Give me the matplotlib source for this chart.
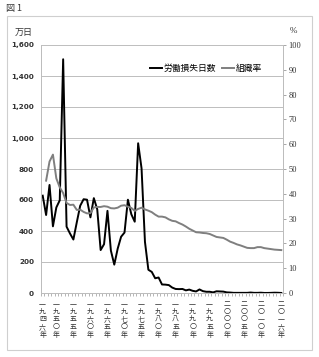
import numpy as np
import matplotlib
matplotlib.use('Agg')
import matplotlib.pyplot as plt
from matplotlib.lines import Line2D
from matplotlib.patches import Rectangle

plt.rcParams['font.family'] = ['Noto Sans CJK JP', 'DejaVu Sans']

# categories: one per year, 1946 - 2016
years = list(range(1946, 2017))

# 労働損失日数 (万日)
lost_days = [628, 503, 697, 430, 552, 598, 1508, 428, 384, 345, 456, 563,
             605, 602, 488, 612, 540, 277, 315, 530, 274, 183, 286, 363,
             390, 602, 508, 460, 966, 804, 330, 150, 136, 95, 100, 55,
             54, 51, 35, 26, 25, 26, 17, 22, 14, 10, 23, 12, 8, 8, 4,
             11, 10, 9, 4, 3, 1, 1, 1, 1, 1, 3, 1, 1, 2, 0.4, 0.4, 1, 2,
             1.5, 0.3]

# 組織率 (%) - starts in 1947
union_years = list(range(1947, 2017))
union_rate = [45.3, 53.0, 55.8, 46.2, 42.6, 40.3, 36.3, 35.5, 35.6, 33.5,
              33.6, 32.7, 32.1, 32.2, 34.5, 34.7, 34.7, 35.0, 34.8, 34.2,
              34.1, 34.4, 35.2, 35.4, 34.8, 34.3, 33.1, 33.9, 34.4, 33.7,
              33.2, 32.6, 31.6, 30.8, 30.8, 30.5, 29.7, 29.1, 28.9, 28.2,
              27.6, 26.8, 25.9, 25.2, 24.5, 24.4, 24.2, 24.1, 23.8, 23.2,
              22.6, 22.4, 22.2, 21.5, 20.7, 20.2, 19.6, 19.2, 18.7, 18.2,
              18.1, 18.1, 18.5, 18.5, 18.1, 17.9, 17.7, 17.5, 17.4, 17.3]

label_years = [1946, 1950, 1955, 1960, 1965, 1970, 1975, 1980,
               1985, 1990, 1995, 2000, 2005, 2010, 2016]
label_texts = ['一九四六年', '一九五〇年', '一九五五年', '一九六〇年', '一九六五年',
               '一九七〇年', '一九七五年', '一九八〇年', '一九八五年', '一九九〇年',
               '一九九五年', '二〇〇〇年', '二〇〇五年', '二〇一〇年', '二〇一六年']

W, H = 319, 357
fig = plt.figure(figsize=(W / 100, H / 100), dpi=100)

# outer frame
fig.patches.append(Rectangle((7 / W, 1 - 350 / H), 305 / W, 334 / H,
                             transform=fig.transFigure, fill=False,
                             edgecolor='#cfcfcf', linewidth=0.8))
fig.text(6 / W, 1 - 8 / H, '図 1', fontsize=6.5, va='center', ha='left',
         color='#333333')

ax = fig.add_axes([41 / W, 1 - 293 / H, 242 / W, 248 / H])
ax2 = ax.twinx()

idx = np.arange(len(years))
uidx = np.array([years.index(y) for y in union_years])

ax.plot(idx, lost_days, color='black', linewidth=1.4, zorder=3)
ax2.plot(uidx, union_rate, color='#7f7f7f', linewidth=1.4, zorder=2)

ax.set_xlim(-0.5, len(years) - 0.5)
ax.set_ylim(0, 1600)
ax2.set_ylim(0, 100)

ax.set_yticks(np.arange(0, 1601, 200))
ax.set_yticklabels(['{:,}'.format(v) for v in range(0, 1601, 200)],
                   fontsize=5.2, fontweight='bold', family='DejaVu Sans',
                   color='#333333')
ax.tick_params(axis='y', length=0, pad=5)
ax.yaxis.grid(True, color='#bdbdbd', linewidth=0.7)
ax.set_axisbelow(True)

ax2.set_yticks(np.arange(0, 101, 10))
ax2.set_yticklabels([str(v) for v in range(0, 101, 10)], fontsize=6,
                    family='Liberation Serif', color='#333333')
ax2.tick_params(axis='y', length=2.5, width=0.6, color='#999999', pad=1.5)

ax.set_xticks([years.index(y) for y in label_years])
ax.set_xticklabels(['\n'.join(t) for t in label_texts], fontsize=5,
                   color='#333333', linespacing=0.95, va='top')
ax.tick_params(axis='x', length=0, pad=5)
ax.set_xticks(np.arange(-0.5, len(years), 1), minor=True)
ax.tick_params(axis='x', which='minor', length=2, width=0.5, color='#999999')

for a in (ax, ax2):
    for s in a.spines.values():
        s.set_color('#bdbdbd')
        s.set_linewidth(0.7)
    a.spines['top'].set_visible(False)

fig.text(15 / W, 1 - 32 / H, '万日', fontsize=6.5, va='center', ha='left',
         color='#333333')
fig.text(290 / W, 1 - 31 / H, '%', fontsize=6.5, va='center', ha='left',
         color='#333333', family='Liberation Serif')

handles = [Line2D([], [], color='black', linewidth=1.4),
           Line2D([], [], color='#7f7f7f', linewidth=1.4)]
ax2.legend(handles, ['労働損失日数', '組織率'], loc='center left',
           bbox_to_anchor=(0.45, 0.907), ncol=2, frameon=False,
           fontsize=6.3, handlelength=1.4, handletextpad=0.2,
           columnspacing=0.6, borderaxespad=0, borderpad=0)

fig.savefig('out.png', dpi=100)
